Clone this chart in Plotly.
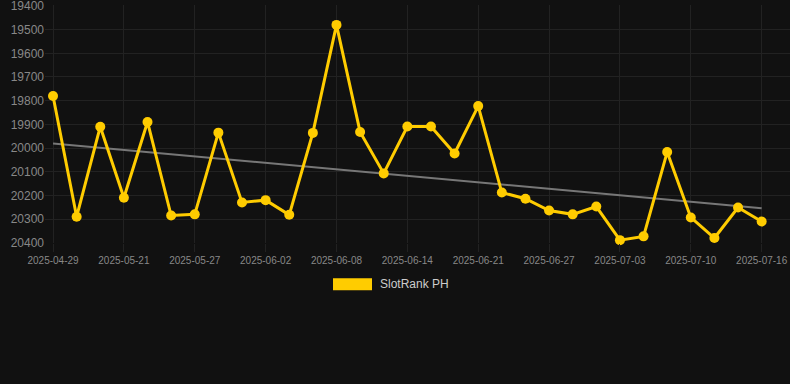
import numpy as np
import plotly.graph_objects as go

dates = ["2025-04-29", "2025-05-07", "2025-05-14", "2025-05-21", "2025-05-23", "2025-05-25",
         "2025-05-27", "2025-05-29", "2025-05-31", "2025-06-02", "2025-06-04", "2025-06-06",
         "2025-06-08", "2025-06-10", "2025-06-12", "2025-06-14", "2025-06-16", "2025-06-19",
         "2025-06-21", "2025-06-23", "2025-06-25", "2025-06-27", "2025-06-29", "2025-07-01",
         "2025-07-03", "2025-07-05", "2025-07-08", "2025-07-10", "2025-07-12", "2025-07-14",
         "2025-07-16"]
ranks = [19780, 20290, 19910, 20210, 19890, 20285, 20280, 19935, 20230, 20220, 20282, 19936,
         19480, 19932, 20107, 19909, 19909, 20023, 19823, 20188, 20214, 20264, 20280, 20247,
         20389, 20373, 20017, 20293, 20380, 20251, 20310]
tick_labels = dates[::3]
y_ticks = list(range(19400, 20401, 100))
series_name = "SlotRank PH"

idx = np.arange(len(ranks))
slope, intercept = np.polyfit(idx, ranks, 1)
trend = (slope * idx + intercept).tolist()

fig = go.Figure()
fig.add_trace(go.Scatter(x=dates, y=trend, mode="lines",
                         line=dict(color="#777777", width=2), showlegend=False,
                         hoverinfo="skip"))
fig.add_trace(go.Scatter(x=dates, y=ranks, mode="lines+markers", name=series_name,
                         line=dict(color="#FFCC00", width=3),
                         marker=dict(color="#FFCC00", size=10), showlegend=False,
                         cliponaxis=False))

PH = 237.0
fig.add_shape(type="rect", xref="paper", yref="paper", x0=(333 - 45) / 745, x1=(372 - 45) / 745,
              y0=-(278 - 243) / PH, y1=-(290 - 243) / PH,
              fillcolor="#FFCC00", line=dict(width=0))
fig.add_annotation(text=series_name, xref="paper", yref="paper", x=(378 - 45) / 745,
                   y=-(284 - 243) / PH, xanchor="left", yanchor="middle", showarrow=False,
                   font=dict(family="Arial, Liberation Sans, sans-serif", size=12, color="#cccccc"))

fig.update_layout(
    width=790, height=384,
    margin=dict(l=45, r=0, t=5, b=141),
    paper_bgcolor="#111111", plot_bgcolor="#111111",
    font=dict(family="Arial, Liberation Sans, sans-serif", color="#888888"),
    xaxis=dict(type="category", categoryorder="array", categoryarray=dates,
               tickmode="array", tickvals=tick_labels, ticktext=tick_labels,
               range=[-0.34, 31.2], showgrid=True, gridcolor="#222222", gridwidth=1,
               zeroline=False, showline=False, ticks="outside", ticklen=8,
               tickcolor="#222222", tickfont=dict(size=10, color="#888888")),
    yaxis=dict(range=[20401, 19396], tickmode="array", tickvals=y_ticks, tickformat="d",
               showgrid=True, gridcolor="#222222", gridwidth=1, zeroline=False,
               showline=False, ticks="", ticklabeloverflow="allow",
               tickfont=dict(size=12, color="#888888")),
    showlegend=False,
)

fig.write_html("out.html", config={"displayModeBar": False},
               post_script="document.body.style.margin='0';document.body.style.background='#111111';")
